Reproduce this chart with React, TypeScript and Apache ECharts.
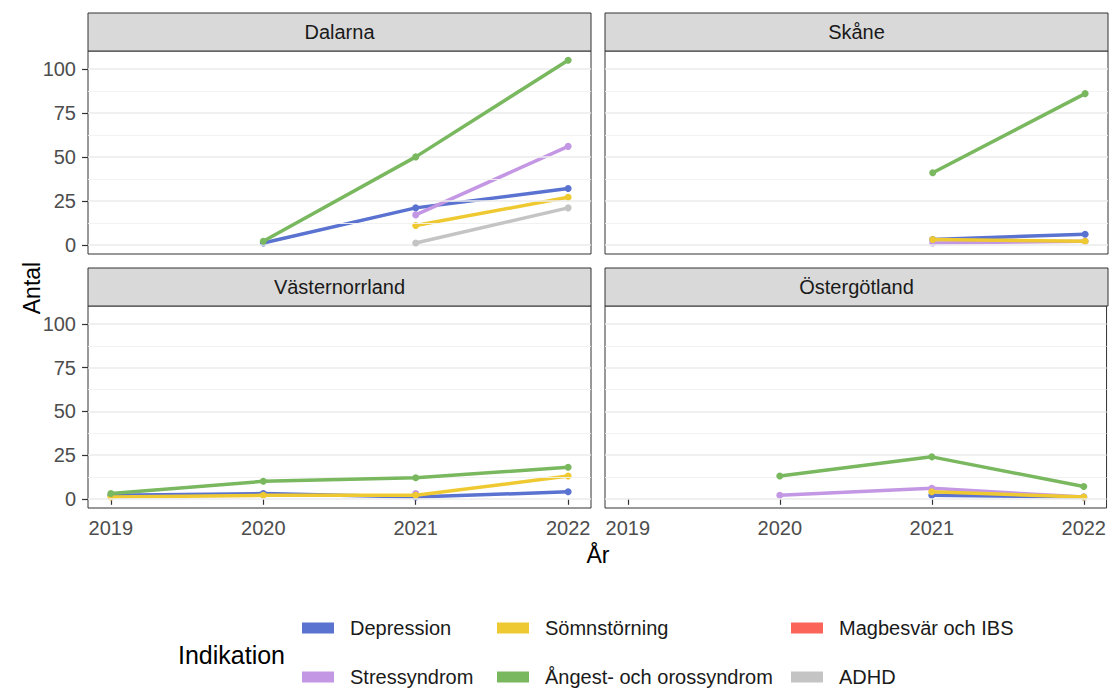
import React, { useEffect, useRef } from 'react';
import * as echarts from 'echarts';

const years = [2019, 2020, 2021, 2022];
const regions = ['Dalarna', 'Skåne', 'Västernorrland', 'Östergötland'];

// legend order (column-wise, as drawn)
const indications = [
  'Depression',
  'Stressyndrom',
  'Sömnstörning',
  'Ångest- och orossyndrom',
  'Magbesvär och IBS',
  'ADHD',
];
const indicationColors = ['#5a72d0', '#c497e4', '#efc931', '#79b85f', '#fb6458', '#c4c4c4'];

// values per region (Dalarna, Skåne, Västernorrland, Östergötland), per year 2019..2022
const depression = [
  [null, 1, 21, 32],
  [null, null, 3, 6],
  [2, 3, 1, 4],
  [null, null, 2, 1],
];
const stressyndrom = [
  [null, null, 17, 56],
  [null, null, 1, 2],
  [null, null, 3, null],
  [null, 2, 6, 1],
];
const somnstorning = [
  [null, null, 11, 27],
  [null, null, 3, 2],
  [1, 2, 2, 13],
  [null, null, 4, 1],
];
const angest = [
  [null, 2, 50, 105],
  [null, null, 41, 86],
  [3, 10, 12, 18],
  [null, 13, 24, 7],
];
const magbesvar = [
  [null, null, null, null],
  [null, null, null, null],
  [null, null, null, null],
  [null, null, null, null],
];
const adhd = [
  [null, null, 1, 21],
  [null, null, null, null],
  [null, null, null, null],
  [null, null, null, null],
];
const seriesValues = [depression, stressyndrom, somnstorning, angest, magbesvar, adhd];

const yTicks = [0, 25, 50, 75, 100];
const yMinor = [12.5, 37.5, 62.5, 87.5];
const yMin = -5.25;
const yMax = 110.25;
const xMin = 2018.85;
const xMax = 2022.15;

const FONT = 'Liberation Sans, Arial, Helvetica, sans-serif';

// panel boxes: [left, top, width, height], strip height
const panels = [
  [88, 51, 503, 203],
  [605, 51, 503, 203],
  [88, 306, 503, 202],
  [605, 306, 503, 202],
];
const stripH = 38;

// legend positions: [left, top]
const legendPos = [
  [302, 618],
  [302, 667],
  [497, 618],
  [497, 667],
  [791, 618],
  [791, 667],
];

export default function App() {
  const ref = useRef<HTMLDivElement>(null);

  useEffect(() => {
    if (!ref.current) return;
    const chart = echarts.init(ref.current, undefined, { renderer: 'svg' });

    const grid = panels.map(([l, t, w, h]) => ({
      left: l,
      top: t,
      width: w,
      height: h,
      show: true,
      borderColor: '#333333',
      borderWidth: 1,
      backgroundColor: '#ffffff',
      containLabel: false,
    }));

    const xAxis = panels.map((_, i) => ({
      type: 'value',
      gridIndex: i,
      min: xMin,
      max: xMax,
      axisLine: { show: false },
      splitLine: { show: false },
      axisTick: {
        show: i >= 2,
        customValues: years,
        length: 6,
        lineStyle: { color: '#333333', width: 1.2 },
      },
      axisLabel: {
        show: i >= 2,
        customValues: years,
        margin: 10,
        color: '#4d4d4d',
        fontSize: 20,
        fontFamily: FONT,
        formatter: (v: number) => String(v),
      },
    }));

    const yAxis = panels.map((_, i) => ({
      type: 'value',
      gridIndex: i,
      min: yMin,
      max: yMax,
      axisLine: { show: false },
      splitLine: { show: false },
      axisTick: {
        show: i % 2 === 0,
        customValues: yTicks,
        length: 6,
        lineStyle: { color: '#333333', width: 1.2 },
      },
      axisLabel: {
        show: i % 2 === 0,
        customValues: yTicks,
        margin: 12,
        color: '#4d4d4d',
        fontSize: 20,
        fontFamily: FONT,
        formatter: (v: number) => String(v),
      },
    }));

    const series: any[] = [];
    panels.forEach((_, p) => {
      series.push({
        type: 'line',
        xAxisIndex: p,
        yAxisIndex: p,
        data: [],
        silent: true,
        z: 1,
        markLine: {
          silent: true,
          symbol: 'none',
          animation: false,
          label: { show: false },
          emphasis: { disabled: true },
          data: [
            ...yTicks.map((v) => ({ yAxis: v, lineStyle: { color: '#ebebeb', width: 1.6, type: 'solid' } })),
            ...yMinor.map((v) => ({ yAxis: v, lineStyle: { color: '#f0f0f0', width: 0.9, type: 'solid' } })),
          ],
        },
      });
      indications.forEach((name, k) => {
        const vals = seriesValues[k][p];
        const data = years
          .map((yr, j) => (vals[j] === null ? null : [yr, vals[j]]))
          .filter((d) => d !== null);
        series.push({
          name,
          type: 'line',
          xAxisIndex: p,
          yAxisIndex: p,
          data,
          z: 2 + k,
          color: indicationColors[k],
          showSymbol: true,
          symbol: 'circle',
          symbolSize: 7,
          lineStyle: { width: 3.5, color: indicationColors[k] },
          itemStyle: { color: indicationColors[k] },
          emphasis: { disabled: true },
        });
      });
    });

    const legend = indications.map((name, k) => ({
      show: true,
      left: legendPos[k][0],
      top: legendPos[k][1],
      padding: 0,
      orient: 'horizontal',
      icon: 'rect',
      itemWidth: 32,
      itemHeight: 11,
      selectedMode: false,
      data: [name],
      textStyle: {
        fontSize: 20,
        fontFamily: FONT,
        color: '#1a1a1a',
        padding: [0, 0, 0, 11],
      },
    }));

    const graphic: any[] = [];
    panels.forEach(([l, t, w], i) => {
      graphic.push({
        type: 'rect',
        shape: { x: l, y: t - stripH, width: w, height: stripH },
        style: { fill: '#d9d9d9', stroke: '#333333', lineWidth: 1 },
        silent: true,
      });
      graphic.push({
        type: 'text',
        x: l + w / 2,
        y: t - stripH / 2,
        style: {
          text: regions[i],
          fill: '#1a1a1a',
          font: `20px ${FONT}`,
          align: 'center',
          verticalAlign: 'middle',
        },
        silent: true,
      });
    });
    graphic.push({
      type: 'text',
      x: 32,
      y: 288,
      rotation: Math.PI / 2,
      style: { text: 'Antal', fill: '#000000', font: `23px ${FONT}`, align: 'center', verticalAlign: 'middle' },
      silent: true,
    });
    graphic.push({
      type: 'text',
      x: 598,
      y: 555,
      style: { text: 'År', fill: '#000000', font: `23px ${FONT}`, align: 'center', verticalAlign: 'middle' },
      silent: true,
    });
    graphic.push({
      type: 'text',
      x: 178,
      y: 655,
      style: { text: 'Indikation', fill: '#000000', font: `25px ${FONT}`, align: 'left', verticalAlign: 'middle' },
      silent: true,
    });

    chart.setOption({
      animation: false,
      backgroundColor: '#ffffff',
      grid,
      xAxis,
      yAxis,
      series,
      legend,
      graphic,
    });

    return () => chart.dispose();
  }, []);

  return (
    <div
      ref={ref}
      style={{ position: 'absolute', left: 0, top: 0, width: 1109, height: 690 }}
    />
  );
}
